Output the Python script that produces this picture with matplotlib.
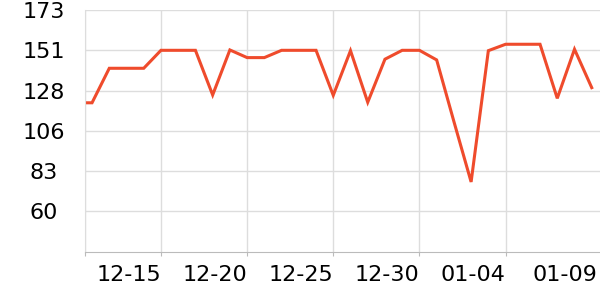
import matplotlib
matplotlib.use("Agg")
import matplotlib.pyplot as plt
import matplotlib.transforms as mtransforms

dates = ["12-10", "12-11", "12-12", "12-13", "12-14", "12-15", "12-16", "12-17",
         "12-18", "12-19", "12-20", "12-21", "12-22", "12-23", "12-24", "12-25",
         "12-26", "12-27", "12-28", "12-29", "12-30", "12-31", "01-01", "01-02",
         "01-03", "01-04", "01-05", "01-06", "01-07", "01-08", "01-09"]
values = [121, 121, 140.4, 140.4, 140.4, 150.5, 150.5, 150.5,
          125.4, 150.7, 146.4, 146.4, 150.5, 150.5, 150.5, 125.2,
          150.3, 121.3, 145.5, 150.5, 150.5, 145.1, 110.5, 76.5,
          150.3, 153.9, 153.9, 153.9, 123.5, 151.1, 129.5]
ytick_vals = [60, 82.6, 105.2, 127.8, 150.4, 173]
ytick_labels = ["60", "83", "106", "128", "151", "173"]
xtick_labels = ["12-15", "12-20", "12-25", "12-30", "01-04", "01-09"]

grid_c = "#dddddd"

fig = plt.figure(figsize=(6, 3), dpi=100)
ax = fig.add_axes([0.1422, 0.159, 0.8578, 0.8067])

x = list(range(len(dates)))
ax.plot(x, values, color="#ef4b2c", linewidth=2.2, solid_joinstyle="miter")

ax.set_xlim(0.61, 30.48)
ax.set_ylim(36.95, 173)

xt = [dates.index(d) for d in xtick_labels]
ax.set_xticks([0.61] + xt)
ax.set_xticklabels([""] + xtick_labels)
ax.set_yticks(ytick_vals)
ax.set_yticklabels(ytick_labels)

ax.grid(True, color=grid_c, linewidth=1)
ax.set_axisbelow(True)
# no grid line / tick at the right edge label
ax.xaxis.get_gridlines()[-1].set_visible(False)
ax.xaxis.get_major_ticks()[-1].tick1line.set_visible(False)

for s in ["top", "right"]:
    ax.spines[s].set_visible(False)
ax.spines["left"].set_color(grid_c)
ax.spines["bottom"].set_color("#bbbbbb")

ax.tick_params(axis="x", length=3, color="#bbbbbb", labelsize=16, pad=6)
ax.tick_params(axis="y", length=0, labelsize=16, pad=30)
for lab in ax.get_yticklabels():
    lab.set_horizontalalignment("center")
labs = ax.get_xticklabels()
for lab in labs:
    lab.set_horizontalalignment("right")
shift = mtransforms.ScaledTranslation(6 / 100, 0, fig.dpi_scale_trans)
labs[-1].set_transform(labs[-1].get_transform() + shift)

fig.savefig("out.png", dpi=100)
